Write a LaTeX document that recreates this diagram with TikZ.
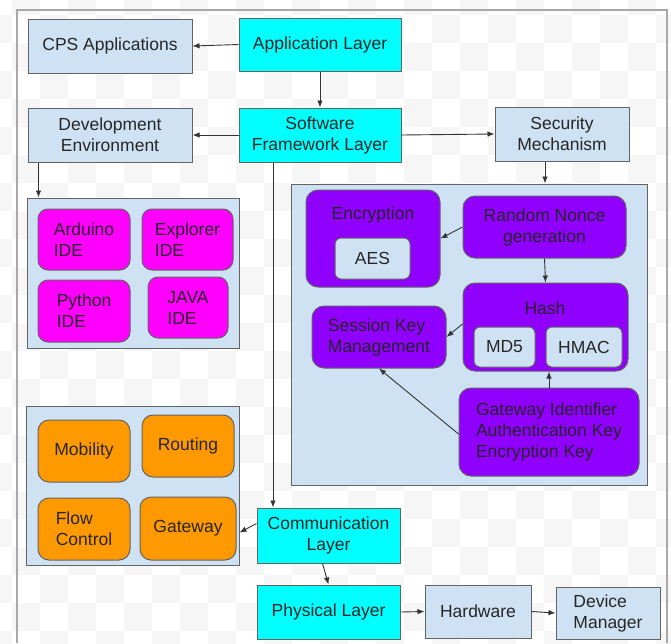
\documentclass[tikz,border=0pt]{standalone}
\usepackage{fontspec}
\setmainfont{Liberation Sans}
\usetikzlibrary{arrows.meta}
\definecolor{lb}{HTML}{CFE2F3}
\definecolor{cy}{HTML}{00FFFF}
\definecolor{mg}{HTML}{FF00FF}
\definecolor{og}{HTML}{FF9900}
\definecolor{pu}{HTML}{9000FF}
\definecolor{bd}{HTML}{636363}
\definecolor{tx}{HTML}{262626}
\definecolor{chk}{HTML}{F6F6F6}
\definecolor{frm}{HTML}{A8A8A8}
% block given by its corners (x1,y1) (x2,y2), y growing downwards
\newcommand\blk[7]{\node[#2,minimum width={#5pt-#3pt},minimum height={#6pt-#4pt}] (#1) at ({(#3+#5)/2},{(#4+#6)/2}) {#7};}
\tikzset{
  base/.style={draw=bd,line width=1pt,text=tx,inner sep=2pt,
    font=\fontsize{17.5}{21}\selectfont},
  lite/.style={base,fill=lb,align=center},
  layer/.style={base,fill=cy,align=center},
  grp/.style={base,fill=lb},
  ide/.style={base,fill=mg,rounded corners=10pt,align=left},
  net/.style={base,fill=og,rounded corners=11pt,align=left},
  sec/.style={base,fill=pu,rounded corners=12pt,align=left},
  sub/.style={base,fill=lb,rounded corners=6pt,align=center},
  lbl/.style={text=tx,font=\fontsize{17.5}{21}\selectfont,inner sep=0pt},
  arr/.style={draw=black!80,line width=0.9pt,-{Latex[length=7pt,width=5.5pt]}},
}
\begin{document}
\begin{tikzpicture}[x=1pt,y=-1pt]
\useasboundingbox (0,0) rectangle (671,643);
% light checkered backdrop
\begin{scope}
\clip (0,0) rectangle (671,643);
\foreach \i in {0,...,24}{
  \foreach \j in {0,...,23}{
    \ifodd\numexpr\i+\j\relax
      \fill[chk] ({-16+28*\i},{-13+28*\j}) rectangle ++(28,28);
    \fi
  }
}
\end{scope}
% outer frame
\draw[frm,line width=1.2pt] (17,643) -- (17,10) -- (667,10) -- (667,643);

% layers and their outputs
\blk{cps}{lite}{28}{19}{192}{73}{CPS Applications}
\blk{app}{layer}{239}{18}{401}{71}{Application Layer}
\blk{dev}{lite}{28}{108}{192}{162}{Development\\Environment}
\blk{sw}{layer}{239}{108}{401}{162}{Software\\Framework Layer}
\blk{secm}{lite}{495}{107}{629}{161}{Security\\Mechanism}

% development tools
\blk{idegrp}{grp}{27}{198}{239}{348}{}
\blk{ard}{ide}{38}{209}{130}{270}{Arduino\\IDE}
\blk{exp}{ide}{142}{209}{233}{270}{Explorer\\IDE}
\blk{py}{ide}{38}{280}{130}{342}{Python\\IDE}
\blk{java}{ide}{148}{277}{228}{338}{JAVA\\IDE}

% security functions
\blk{secgrp}{grp}{291}{184}{647}{485}{}
\blk{enc}{sec}{306}{190}{440}{287}{}
\node[lbl] (enctxt) at (373,215) {Encryption};
\blk{aes}{sub}{335}{238}{410}{279}{AES}
\blk{rng}{sec,align=center}{463}{196}{626}{258}{Random Nonce\\generation}
\blk{hash}{sec}{463}{283}{628}{371}{}
\node[lbl] (hashtxt) at (545,308) {Hash};
\blk{md5}{sub}{474}{327}{535}{367}{MD5}
\blk{hmac}{sub}{546}{327}{622}{367}{HMAC}
\blk{skm}{sec}{312}{306}{446}{368}{Session Key\\Management}
\blk{gwid}{sec}{459}{388}{639}{476}{Gateway Identifier\\Authentication Key\\Encryption Key}

% networking functions
\blk{netgrp}{grp}{26}{406}{239}{565}{}
\blk{mob}{net}{38}{420}{130}{482}{Mobility}
\blk{rout}{net}{142}{415}{234}{477}{Routing}
\blk{flow}{net}{38}{498}{130}{560}{Flow\\Control}
\blk{gwy}{net}{140}{497}{236}{560}{Gateway}

% lower layers
\blk{comm}{layer}{257}{508}{400}{563}{Communication\\Layer}
\blk{phys}{layer}{257}{585}{400}{639}{Physical Layer}
\blk{hw}{lite}{425}{585}{531}{638}{Hardware}
\blk{dm}{lite,align=left}{556}{587}{660}{639}{Device\\Manager}

% connectors
\draw[arr] (app.west) -- (cps.east);
\draw[arr] (app.south) -- (sw.north);
\draw[arr] (sw.west) -- (dev.east);
\draw[arr] (sw.east) -- (secm.west);
\draw[arr] ([xshift=11pt]dev.south west) -- ([xshift=11pt]dev.south west |- idegrp.north);
\draw[arr] ([xshift=-17pt]secm.south) -- ([xshift=-17pt]secm.south |- secgrp.north);
\draw[arr] ([xshift=-47pt]sw.south) -- ([xshift=-47pt]sw.south |- comm.north);
\draw[arr] (rng.west) -- (enc.east);
\draw[arr] (rng.south) -- (hash.north);
\draw[arr] ([yshift=3pt]hash.west) -- (skm.east);
\draw[arr] (gwid.north) -- (gwid.north |- hash.south);
\draw[arr] ([yshift=-2pt]gwid.west) -- (skm.south);
\draw[arr] ([yshift=12pt]comm.west) -- ([yshift=-4pt,xshift=3pt]gwy.east);
\draw[arr] ([xshift=-6pt]comm.south) -- (phys.north);
\draw[arr] (phys.east) -- (hw.west);
\draw[arr] (hw.east) -- (dm.west);
\end{tikzpicture}
\end{document}
